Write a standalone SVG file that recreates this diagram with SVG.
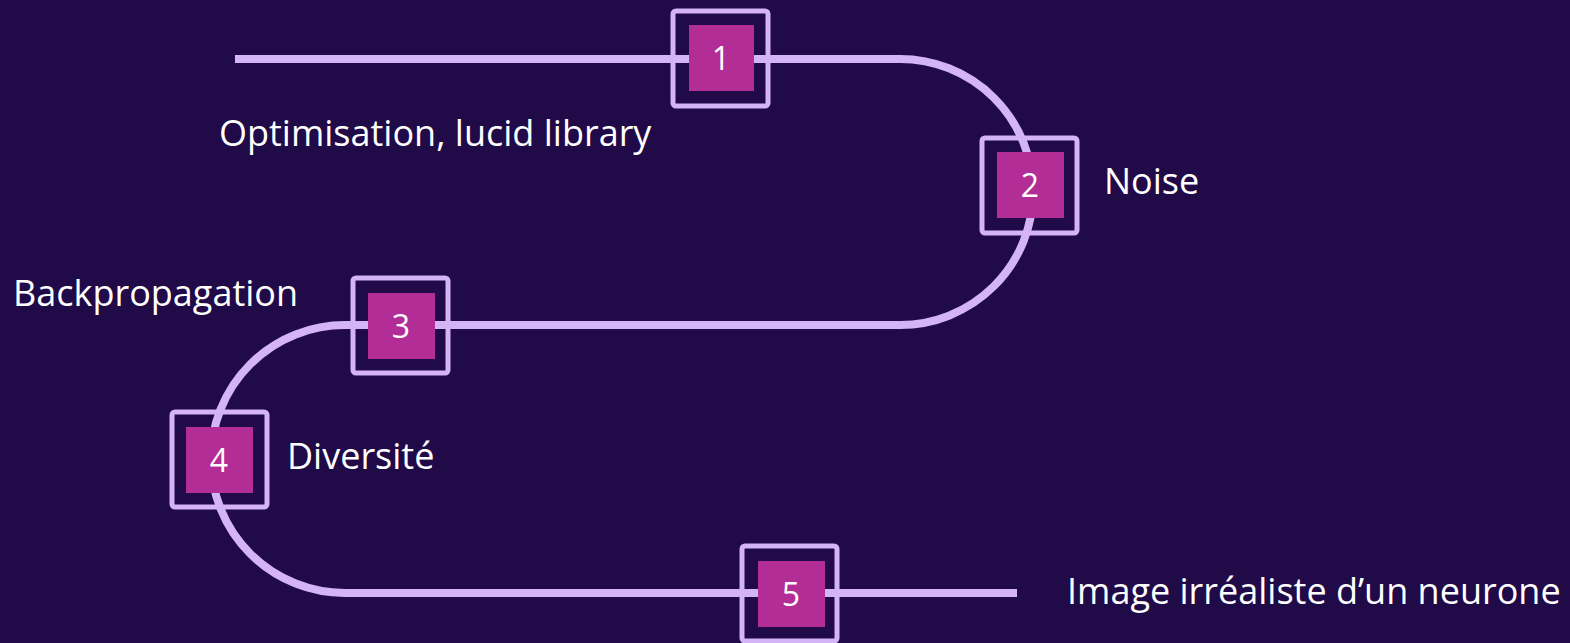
<svg xmlns="http://www.w3.org/2000/svg" width="1570" height="643" viewBox="0 0 1570 643">
<style>
.track{fill:none;stroke:#d4b4f4;stroke-width:8}
.outer{fill:none;stroke:#d4b4f4;stroke-width:5}
.inner{fill:#b32d96}
.num{fill:#ffffff;font-family:"Open Sans","Noto Sans",sans-serif;font-size:32px;text-anchor:middle}
.lbl{fill:#ffffff;font-family:"Open Sans","Noto Sans",sans-serif;font-size:36px}
</style>
<rect width="1570" height="643" fill="#200a48"/>
<g id="connectors">
<path class="track" d="M235,59 H900 A133,133 0 0 1 900,325 H345 A134,134 0 0 0 345,593 H1017"/>
</g>
<g id="node1">
<rect class="outer" x="673" y="11" width="95" height="95" rx="3"/>
<rect class="inner" x="689" y="25" width="65" height="66"/>
<text class="num" x="721" y="70">1</text>
<text class="lbl" x="219" y="146">Optimisation, lucid library</text>
</g>
<g id="node2">
<rect class="outer" x="982" y="138" width="95" height="95" rx="3"/>
<rect class="inner" x="997" y="152" width="67" height="66"/>
<text class="num" x="1030" y="197">2</text>
<text class="lbl" x="1104" y="194">Noise</text>
</g>
<g id="node3">
<rect class="outer" x="353" y="278" width="95" height="95" rx="3"/>
<rect class="inner" x="368" y="293" width="67" height="66"/>
<text class="num" x="401" y="338">3</text>
<text class="lbl" x="13" y="306">Backpropagation</text>
</g>
<g id="node4">
<rect class="outer" x="172" y="412" width="95" height="95" rx="3"/>
<rect class="inner" x="186" y="427" width="67" height="66"/>
<text class="num" x="219" y="472">4</text>
<text class="lbl" x="287" y="469">Diversité</text>
</g>
<g id="node5">
<rect class="outer" x="742" y="546" width="95" height="95" rx="3"/>
<rect class="inner" x="758" y="561" width="67" height="66"/>
<text class="num" x="791" y="606">5</text>
<text class="lbl" x="1067" y="604">Image irréaliste d’un neurone</text>
</g>
</svg>
